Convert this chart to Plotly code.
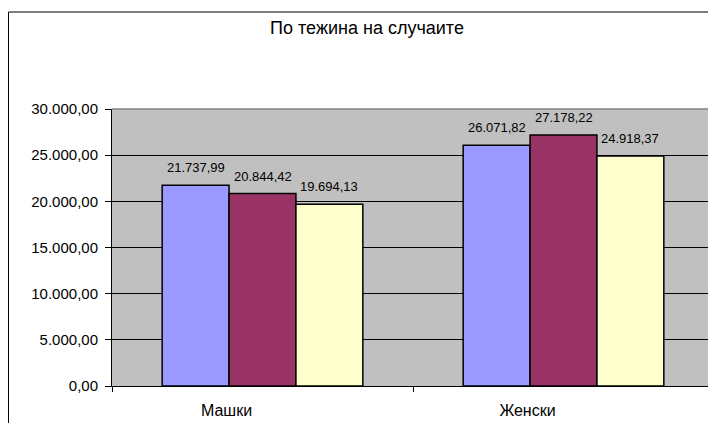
import plotly.graph_objects as go

categories = ["Машки", "Женски"]
series_names = ["Серија 1", "Серија 2", "Серија 3"]
series_values = [
    [21737.99, 26071.82],
    [20844.42, 27178.22],
    [19694.13, 24918.37],
]
series_colors = ["#9999FF", "#993366", "#FFFFCC"]
y_ticks = [0, 5000, 10000, 15000, 20000, 25000, 30000]
title_text = "По тежина на случаите"

FONT = "Liberation Sans, Arial, sans-serif"
W, H = 708, 423
ML, MR, MT, MB = 112, 0, 109, 37
BARGAP = 1 / 3
CAT_PX = 301  # width of one category slot in the reference

fig = go.Figure()
for name, vals, col in zip(series_names, series_values, series_colors):
    fig.add_trace(go.Bar(
        x=categories, y=vals, name=name,
        marker=dict(color=col, line=dict(color="black", width=1.5)),
        hoverinfo="x+y+name",
    ))

# data labels above each bar
nser = len(series_values)
bw = (1 - BARGAP) / nser
for j, vals in enumerate(series_values):
    off = (j - (nser - 1) / 2) * bw
    for i, v in enumerate(vals):
        lbl = f"{v:,.2f}".replace(",", " ").replace(".", ",").replace(" ", ".")
        fig.add_annotation(
            x=i + off, y=v, xref="x", yref="y", text=lbl, showarrow=False,
            yanchor="bottom", yshift=8, font=dict(family=FONT, size=13, color="black"),
        )

pw = W - ML - MR
ph = H - MT - MB
# outer chart border (continues beyond the visible window on the right/bottom)
fig.add_shape(type="rect", xref="paper", yref="paper",
              x0=(8.5 - ML) / pw, x1=(W + 20 - ML) / pw,
              y0=-(H + 20 - (H - MB)) / ph, y1=((H - MB) - 12) / ph,
              line=dict(color="black", width=1), fillcolor="rgba(0,0,0,0)", layer="above")
# plot area top border
fig.add_shape(type="line", xref="paper", yref="paper", x0=0, x1=1, y0=1, y1=1,
              line=dict(color="#808080", width=1.5), layer="above")

fig.update_layout(
    width=W, height=H,
    margin=dict(l=ML, r=MR, t=MT, b=MB, pad=0),
    paper_bgcolor="white", plot_bgcolor="#C0C0C0",
    barmode="group", bargap=BARGAP, bargroupgap=0,
    showlegend=False,
    separators=",.",
    font=dict(family=FONT, color="black"),
    title=dict(text=title_text, x=367 / W, xanchor="center", y=1 - 28 / H, yanchor="middle",
               font=dict(family=FONT, size=18, color="black")),
)
fig.update_xaxes(
    range=[-0.5, -0.5 + pw / CAT_PX], showgrid=False, showline=True, linecolor="black", linewidth=1,
    ticks="outside", tickson="boundaries", ticklen=5, tickcolor="black",
    tickfont=dict(family=FONT, size=16, color="black"), ticklabelshift=-36, ticklabelstandoff=10,
)
fig.update_yaxes(
    range=[0, 30000], tickvals=y_ticks, tickformat=",.2f",
    showgrid=True, gridcolor="black", gridwidth=1,
    showline=True, linecolor="black", linewidth=1, zeroline=False,
    ticks="outside", ticklen=6, tickcolor="black",
    tickfont=dict(family=FONT, size=15, color="black"), ticklabelstandoff=4,
)

fig.write_html(
    "out.html",
    config={"displayModeBar": False},
    post_script="document.body.style.margin='0';document.body.style.overflow='hidden';",
)
